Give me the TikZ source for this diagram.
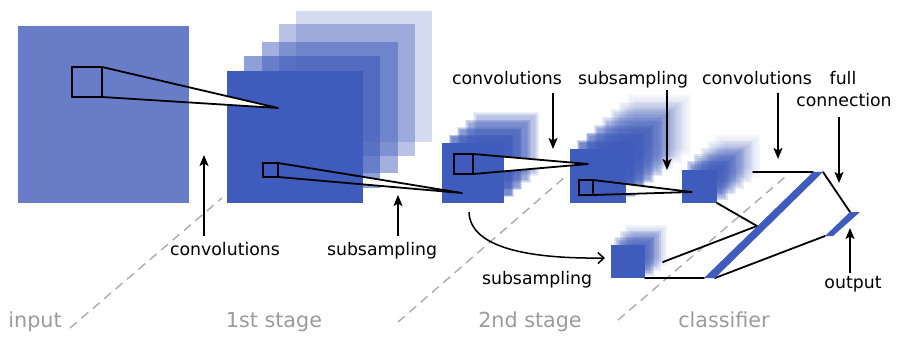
\documentclass[tikz,border=0pt]{standalone}
\usepackage{fontspec}
\setmainfont{DejaVu Sans}
\usetikzlibrary{arrows.meta}
\definecolor{cnnblue}{RGB}{63,91,187}
\definecolor{inblue}{RGB}{104,124,200}
\definecolor{stagegray}{RGB}{155,155,155}
\definecolor{dashgray}{RGB}{172,172,172}
% blurred layer: x1 y1 x2 y2 alpha radius colour
\newcommand{\blay}[7]{%
  \pgfmathsetmacro{\blayop}{1-(1-#5)^(0.2)}%
  \foreach \e in {0,0.5,1,1.5,2}{%
    \fill[#7,opacity=\blayop] ({#1-(\e-1)*#6},{#2-(\e-1)*#6}) rectangle ({#3+(\e-1)*#6},{#4+(\e-1)*#6});
  }%
}
% stack of blurred layers: x1 y1 x2 y2 dx dyup list(k/alpha/r)
\newcommand{\bstack}[7]{%
  \foreach \k/\al/\rr in {#7}{%
    \blay{#1+\k*#5}{#2-\k*#6}{#3+\k*#5}{#4-\k*#6}{\al}{\rr}{cnnblue}
  }%
}
\begin{document}
\begin{tikzpicture}[x=1pt,y=-1pt,
  lab/.style={font=\fontsize{17.3}{20}\selectfont, anchor=base, inner sep=0pt},
  stagelab/.style={font=\fontsize{20.7}{24}\selectfont, text=stagegray, anchor=base, inner sep=0pt},
  arr/.style={line width=1.6pt, -{Stealth[length=11pt,width=9pt,inset=2.5pt]}},
  blk/.style={line width=1.8pt, black, line join=round, line cap=round},
  stagesep/.style={dashgray, line width=1.4pt, dash pattern=on 9pt off 6pt},
  kernel/.style={draw=black, line width=1.8pt}]
\useasboundingbox (0,0) rectangle (900,342);
\fill[white] (0,0) rectangle (900,342);

% ---------- stage separators ----------
\coordinate (s1a) at (70,328);  \coordinate (s1b) at (222,198);
\coordinate (s2a) at (398,322); \coordinate (s2b) at (565,177);
\coordinate (s3a) at (618,320); \coordinate (s3b) at (785,177);
\draw[stagesep] (s1a) -- (s1b);
\draw[stagesep] (s2a) -- (s2b);
\draw[stagesep] (s3a) -- (s3b);

% ---------- classifier convolution maps ----------
\bstack{682}{170}{717}{203}{7.6}{6}{5/0.2/5, 4/0.32/4.5, 3/0.45/4, 2/0.55/3.5, 1/0.65/3}
\fill[cnnblue] (682,170) rectangle (717,203);
% ---------- second-stage subsampled (branch) ----------
\bstack{611}{245}{645}{278}{6}{5.5}{3/0.3/4, 2/0.45/3.5, 1/0.6/3}
\fill[cnnblue] (611,245) rectangle (645,278);

% ---------- second-stage subsampling maps ----------
\bstack{570}{149}{626}{203}{8.7}{7.3}{7/0.15/4, 6/0.25/3.5, 5/0.35/3, 4/0.45/2.6, 3/0.55/2.2, 2/0.65/1.8, 1/0.72/1.5}
\coordinate (k3a) at (593,180); \coordinate (k3b) at (593,195); \coordinate (p3) at (692,192);
\fill[white] (k3a) -- (p3) -- (k3b) -- cycle;
\fill[cnnblue] (570,149) rectangle (626,203);

% ---------- second-stage convolution maps ----------
\bstack{442}{143}{504}{203}{8.3}{7.2}{4/0.35/2, 3/0.5/1.8, 2/0.6/1.5, 1/0.7/1.2}
\coordinate (k2a) at (473,154); \coordinate (k2b) at (473,174); \coordinate (p2) at (588,164);
\fill[white] (k2a) -- (p2) -- (k2b) -- cycle;
\fill[cnnblue] (442,143) rectangle (504,203);

% ---------- first stage ----------
\fill[cnnblue,opacity=0.22] (296,11) rectangle (432,142);
\fill[cnnblue,opacity=0.37] (279,24) rectangle (415,156);
\fill[cnnblue,opacity=0.48] (262,42) rectangle (398,173);
\fill[cnnblue,opacity=0.58] (244,56) rectangle (380,188);
\coordinate (k1a) at (278,163); \coordinate (k1b) at (278,177); \coordinate (p1) at (462,193);
\fill[white] (k1a) -- (p1) -- (k1b) -- cycle;
\fill[cnnblue] (227,71) rectangle (363,203);

% ---------- input ----------
\coordinate (k0a) at (102,67); \coordinate (k0b) at (102,97); \coordinate (p0) at (278,108);
\fill[white] (k0a) -- (p0) -- (k0b) -- cycle;
\fill[inblue] (18,26) rectangle (189,203);

% ---------- kernels and receptive-field lines ----------
\draw[kernel] (72,67) rectangle (k0b);
\draw[blk] (k0a) -- (p0) -- (k0b);
\draw[kernel] (263,163) rectangle (k1b);
\draw[blk] (k1a) -- (p1) -- (k1b);
\draw[kernel] (454,154) rectangle (k2b);
\draw[blk] (k2a) -- (p2) -- (k2b);
\draw[kernel] (579,180) rectangle (k3b);
\draw[blk] (k3a) -- (p3) -- (k3b);

% ---------- classifier connections ----------
\coordinate (fcbl) at (704,278); \coordinate (fcbr) at (715,278);
\coordinate (fctr) at (823,172); \coordinate (fctl) at (813,172);
\coordinate (fcin) at (757,226);
\coordinate (otbl) at (825,236); \coordinate (otbr) at (833,236);
\coordinate (ottr) at (860,212); \coordinate (ottl) at (850,212);
\coordinate (cvtop) at (753,172);
\coordinate (cvbr) at (717,203);
\coordinate (brout) at (663,262);
\coordinate (brbr) at (645,278);
\draw[blk] (cvtop) -- (fctl);
\draw[blk] (fctr) -- (ottl);
\draw[blk] (cvbr) -- (fcin);
\draw[blk] (brout) -- (fcin);
\draw[blk] (brbr) -- (fcbl);
\draw[blk] (fcbr) -- (otbl);
\fill[cnnblue] (fcbl) -- (fcbr) -- (fctr) -- (fctl) -- cycle;
\fill[cnnblue] (otbl) -- (otbr) -- (ottr) -- (ottl) -- cycle;

% ---------- branch arrow ----------
\coordinate (brs) at (469,212); \coordinate (bre) at (605,258);
\draw[line width=1.5pt, -{Straight Barb[length=6pt,width=11pt]}] (brs) .. controls (470,245) and (520,259) .. (bre);

% ---------- labels ----------
\node[lab] (lconv1) at (225,255) {convolutions};
\node[lab] (lsub1) at (382,255) {subsampling};
\node[lab] (lconv2) at (507,85) {convolutions};
\node[lab] (lsub2) at (633,85) {subsampling};
\node[lab] (lconv3) at (757,85) {convolutions};
\node[lab] (lfull) at (843,85) {full};
\node[lab] (lconn) at (844,107) {connection};
\node[lab] (lout) at (853,288) {output};
\node[lab] (lsub3) at (537,284) {subsampling};

\node[stagelab] (sin) at (35,327) {input};
\node[stagelab] (s1) at (274,327) {1st stage};
\node[stagelab] (s2) at (530,327) {2nd stage};
\node[stagelab] (s3) at (724,327) {classifier};

% ---------- pointer arrows ----------
\coordinate (a1s) at (204,236); \coordinate (a1t) at (204,155);
\coordinate (a2s) at (398,236); \coordinate (a2t) at (398,195);
\coordinate (a3s) at (553,93);  \coordinate (a3t) at (553,149);
\coordinate (a4s) at (667,90);  \coordinate (a4t) at (667,170);
\coordinate (a5s) at (778,93);  \coordinate (a5t) at (778,159);
\coordinate (a6s) at (839,117); \coordinate (a6t) at (839,183);
\coordinate (a7s) at (850,273); \coordinate (a7t) at (850,228);
\draw[arr] (a1s) -- (a1t);
\draw[arr] (a2s) -- (a2t);
\draw[arr] (a3s) -- (a3t);
\draw[arr] (a4s) -- (a4t);
\draw[arr] (a5s) -- (a5t);
\draw[arr] (a6s) -- (a6t);
\draw[arr] (a7s) -- (a7t);
\end{tikzpicture}
\end{document}
